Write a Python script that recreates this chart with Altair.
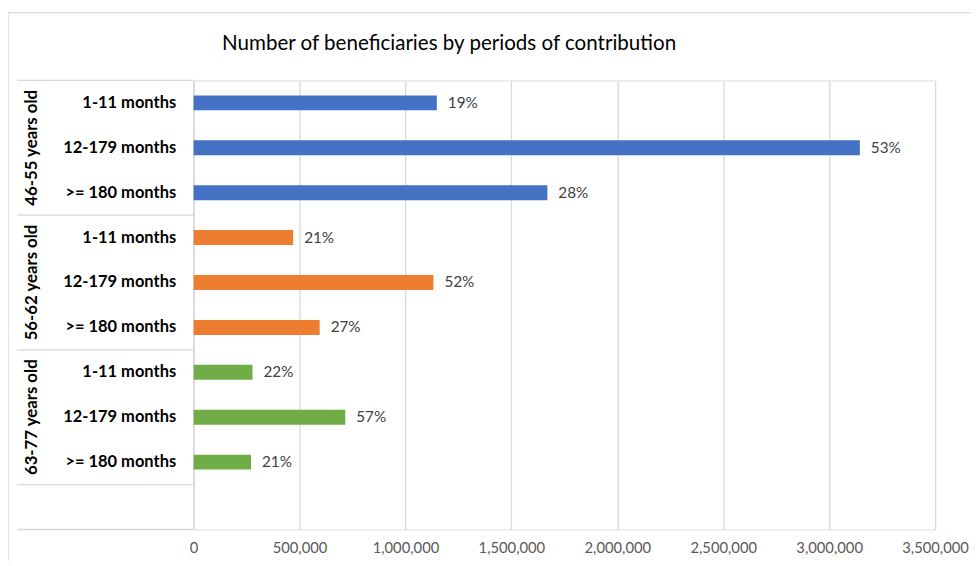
import altair as alt
import pandas as pd

# ---- data ----
title_text = "Number of beneficiaries by periods of contribution"
groups = ["46-55 years old", "56-62 years old", "63-77 years old"]
periods = ["1-11 months", "12-179 months", ">= 180 months"]
values = [
    [1148000, 3145000, 1670000],
    [470000, 1132000, 595000],
    [278000, 716000, 271000],
]
pct_labels = [
    ["19%", "53%", "28%"],
    ["21%", "52%", "27%"],
    ["22%", "57%", "21%"],
]
colors = ["#4472C4", "#ED7D31", "#70AD47"]
x_ticks = [0, 500000, 1000000, 1500000, 2000000, 2500000, 3000000, 3500000]

FONT = "Lato"

rows = []
for gi, g in enumerate(groups):
    for pi, p in enumerate(periods):
        rows.append({"key": f"{g}|{p}", "group": g, "period": p,
                     "value": values[gi][pi], "pct": pct_labels[gi][pi]})
df = pd.DataFrame(rows)
row_order = list(df["key"]) + ["blank|"]

group_df = pd.DataFrame({"group": groups, "key": [f"{g}|{periods[1]}" for g in groups]})
sep_df = pd.DataFrame({"key": [f"{g}|{periods[0]}" for g in groups] + ["blank|"]})
end_df = pd.DataFrame({"key": ["blank|"]})
title_df = pd.DataFrame({"t": [title_text]})

yscale = alt.Scale(domain=row_order, paddingInner=0, paddingOuter=0)
xscale = alt.Scale(domain=[0, 3500000], nice=False)

bars = alt.Chart(df).mark_bar(size=15).encode(
    y=alt.Y("key:N", scale=yscale, sort=row_order,
            axis=alt.Axis(title=None, ticks=False, domain=True, domainColor="#d9d9d9",
                          domainWidth=1.3,
                          labelExpr="split(datum.label, '|')[1]",
                          labelFont=FONT, labelFontSize=16.5, labelFontWeight="bold",
                          labelColor="#000000", labelPadding=18, grid=False)),
    x=alt.X("value:Q", scale=xscale,
            axis=alt.Axis(title=None, values=x_ticks, format=",d", ticks=False, domain=False,
                          grid=True, gridColor="#d9d9d9", gridWidth=1.3,
                          labelFont=FONT, labelFontSize=14.8, labelColor="#595959",
                          labelPadding=11, labelFlush=False, labelOverlap=False)),
    color=alt.Color("group:N", scale=alt.Scale(domain=groups, range=colors), legend=None),
)

texts = alt.Chart(df).mark_text(align="left", baseline="middle", dx=11, font=FONT,
                                fontSize=15.3, color="#404040").encode(
    y=alt.Y("key:N", scale=yscale, sort=row_order),
    x=alt.X("value:Q", scale=xscale),
    text="pct:N",
)

group_labels = alt.Chart(group_df).mark_text(angle=270, align="center", baseline="middle",
                                             font=FONT, fontSize=16.8, fontWeight="bold",
                                             color="#000000").encode(
    y=alt.Y("key:N", scale=yscale, sort=row_order),
    x=alt.value(-162),
    text="group:N",
)

sep_rules = alt.Chart(sep_df).mark_rule(color="#d9d9d9", strokeWidth=1.3).encode(
    y=alt.Y("key:N", scale=yscale, sort=row_order, bandPosition=0),
    x=alt.value(-177),
    x2=alt.value(0),
)
end_rules = alt.Chart(end_df).mark_rule(color="#d9d9d9", strokeWidth=1.3).encode(
    y=alt.Y("key:N", scale=yscale, sort=row_order, bandPosition=1),
    x=alt.value(-177),
    x2=alt.value(0),
)

border = alt.Chart(end_df).mark_rect(fill=None, stroke="#d9d9d9", strokeWidth=1.3).encode(
    x=alt.value(-186), x2=alt.value(800),
    y=alt.value(-68), y2=alt.value(520),
)

title = alt.Chart(title_df).mark_text(align="center", baseline="middle", font=FONT,
                                      fontSize=20.6, color="#000000").encode(
    x=alt.value(256), y=alt.value(-36), text="t:N",
)

chart = alt.layer(border, sep_rules, end_rules, bars, texts, group_labels, title).properties(
    width=743, height=450,
    autosize=alt.AutoSizeParams(type="none"),
    padding={"left": 186, "top": 72, "right": 36, "bottom": 31},
).configure_view(stroke=None).configure(background="white")

chart.save("out.html", embed_options={"renderer": "svg", "actions": False})
